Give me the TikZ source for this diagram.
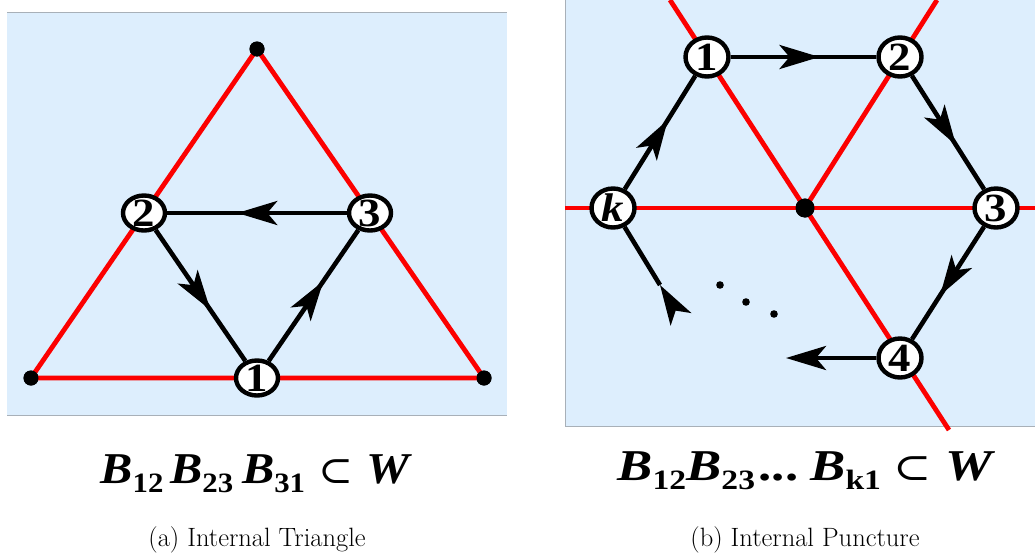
\documentclass[tikz,border=0pt]{standalone}
\usepackage{fontspec}
\usepackage{graphicx}
\newfontfamily\tms{Liberation Serif}
\newfontfamily\djv{DejaVu Serif}
\usetikzlibrary{arrows.meta,decorations.markings,shapes.geometric}
\definecolor{bgblue}{RGB}{221,238,253}
\definecolor{framegray}{RGB}{168,176,184}
\definecolor{wred}{RGB}{252,0,0}
\newcommand{\vl}[1]{\makebox[0pt]{\fontsize{40}{40}\selectfont\tms\bfseries\raisebox{-0.33em}[0pt][0pt]{\scalebox{1.12}[1]{#1}}}}
\newcommand{\sbs}[1]{\raisebox{-9pt}{\fontsize{28}{28}\selectfont\upshape #1}}
\newcommand{\subsetsym}{{\fontsize{38}{38}\selectfont\djv\upshape\mdseries ⊂}}
\tikzset{
  redline/.style={wred, line width=4.8pt},
  blk/.style={black, line width=4.6pt},
  flow/.style={blk, postaction={decorate},
    decoration={markings, mark=at position #1 with {\arrow{Stealth[length=40pt,width=24pt,inset=10pt]}}}},
  flow/.default=0.61,
  endhead/.style={blk, -{Stealth[length=40pt,width=24pt,inset=10pt]}},
  vtx/.style={ellipse, draw, fill=white, line width=4.4pt, inner sep=0pt,
    minimum width=42pt, minimum height=35pt},
  vtxb/.style={vtx, minimum width=43pt, minimum height=39pt},
  dotv/.style={circle, fill=black, inner sep=0pt, minimum size=15pt},
  formula/.style={anchor=base, inner sep=0pt, font=\fontsize{44}{44}\selectfont\tms\bfseries\itshape},
  caption/.style={anchor=base, inner sep=0pt, font=\fontsize{26.5}{30}\selectfont},
}
\begin{document}
\begin{tikzpicture}[x=1pt,y=-1pt]
\useasboundingbox (0,0) rectangle (1035,554);
% ---------- left panel ----------
\fill[bgblue] (7,12) rectangle (507,415);
\draw[framegray, line width=1pt] (7,12) -- (507,12);
\draw[framegray, line width=1pt] (7,415) -- (507,415);
\node[dotv] (T) at (257,49) {};
\node[dotv] (L) at (31,378) {};
\node[dotv] (R) at (484,378) {};
\draw[redline] (T.center) -- (L.center) -- (R.center) -- cycle;
\node[dotv] at (T) {};
\node[dotv] at (L) {};
\node[dotv] at (R) {};
\node[vtx] (a1) at (257,378) {\vl{1}};
\node[vtx] (a2) at (144,213) {\vl{2}};
\node[vtx] (a3) at (370,213) {\vl{3}};
\draw[flow] (a3) -- (a2);
\draw[flow] (a2) -- (a1);
\draw[flow] (a1) -- (a3);
\node[formula] (fa) at (255,483) {\scalebox{1.1}[1]{B\sbs{12}\kern6pt B\sbs{23}\kern8pt B\sbs{31}\kern12pt\subsetsym\kern12pt W}};
\node[caption] (ca) at (257,546) {(a) Internal Triangle};
% ---------- right panel ----------
\fill[bgblue] (565,0) rectangle (1035,426);
\draw[framegray, line width=1pt] (565,0) -- (565,426) -- (1035,426);
\coordinate (hl) at (565,208);
\coordinate (hr) at (1035,208);
\coordinate (p1top) at (670,0);
\coordinate (p4bot) at (949,430);
\coordinate (p2top) at (937,0);
\node[dotv, minimum size=19pt] (C) at (805,208) {};
\draw[redline] (hl) -- (hr);
\draw[redline] (p1top) -- (p4bot);
\draw[redline] (p2top) -- (C.center);
\node[dotv, minimum size=19pt] at (C) {};
\node[vtxb] (b1) at (707,57) {\vl{1}};
\node[vtxb] (b2) at (900,57) {\vl{2}};
\node[vtxb] (b3) at (996,208) {\vl{3}};
\node[vtxb] (b4) at (900,358) {\vl{4}};
\node[vtxb] (bk) at (613,208) {\vl{\itshape k}};
\coordinate (b4end) at (786,358);
\coordinate (bkin) at (660,285);
\draw[flow] (b1) -- (b2);
\draw[flow] (b2) -- (b3);
\draw[flow] (b3) -- (b4);
\draw[flow] (bk) -- (b1);
\draw[endhead] (b4) -- (b4end);
\draw[flow=0] (bkin) -- (bk);
\fill (720,285) circle (3.8pt);
\fill (746,302) circle (3.8pt);
\fill (774,314) circle (3.8pt);
\node[formula] (fb) at (805,480) {\scalebox{1.2}[1]{B\sbs{12}B\sbs{23}\kern3pt{\upshape ...}\kern10pt B\sbs{k1}\kern10pt\subsetsym\kern12pt W}};
\node[caption] (cb) at (805,546) {(b) Internal Puncture};
\end{tikzpicture}
\end{document}
